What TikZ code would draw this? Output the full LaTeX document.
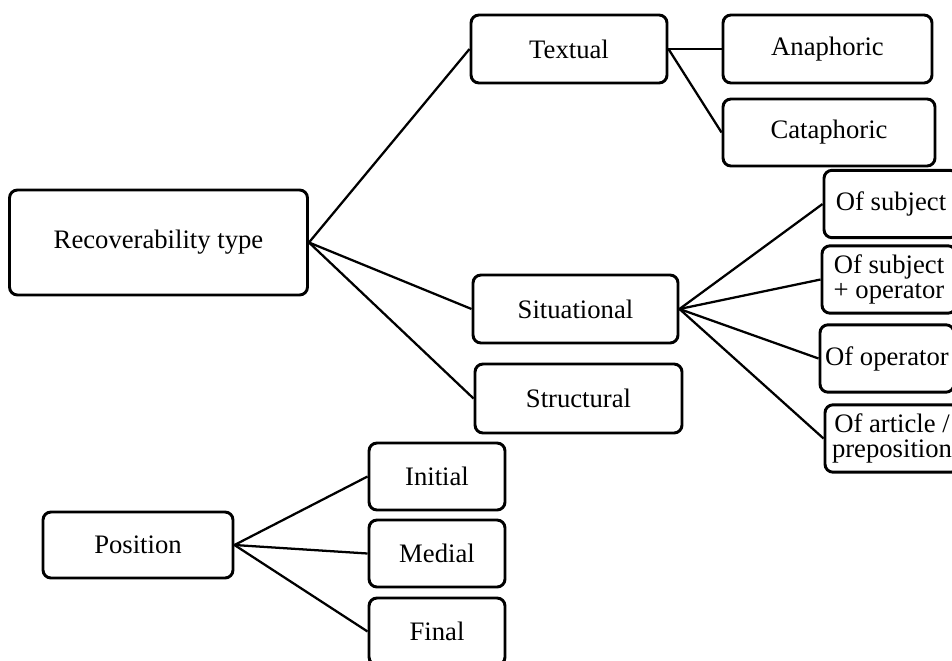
\documentclass[tikz,border=0pt]{standalone}
\usepackage{fontspec}
\setmainfont{Liberation Serif}
\usepackage{tikz}

\begin{document}
\begin{tikzpicture}[
  x=0.75pt, y=-0.75pt,
  font=\fontsize{20}{19}\selectfont,
  box/.style={draw=black, line width=2.2pt, rounded corners=6pt, fill=white,
              align=center, inner sep=0pt, minimum width=102pt, minimum height=51pt},
  leaf/.style={box, minimum width=100.5pt, minimum height=50.5pt},
  link/.style={draw=black, line width=1.7pt}
]
\clip (0,0) rectangle (952,660);

% recoverability tree
\node[box, minimum width=223.5pt, minimum height=78.75pt] (rec) at (158.5,242.5) {Recoverability type};
\node[box, minimum width=147pt]    (textual)    at (569,49)      {Textual};
\node[box, minimum width=156.75pt] (anaphoric)  at (827.5,49)    {Anaphoric};
\node[box, minimum width=159pt, minimum height=50.25pt] (cataphoric) at (829,132.5) {Cataphoric};
\node[box, minimum width=153.75pt] (situational) at (575.5,309)  {Situational};
\node[box, minimum width=155.25pt, minimum height=51.75pt] (structural) at (578.5,398.5) {Structural};

\node[leaf] (ofsubj)   at (891,204)   {Of subject};
\node[leaf] (ofsubjop) at (889,279.5) {Of subject\\+ operator};
\node[leaf] (ofop)     at (887,358.5) {Of operator};
\node[leaf] (ofart)    at (892,438.5) {Of article /\\preposition};

% position tree
\node[box, minimum width=142.5pt, minimum height=49.5pt] (position) at (138,545) {Position};
\node[box, minimum height=50.25pt] (initial) at (437,476.5) {Initial};
\node[box, minimum height=50.25pt] (medial)  at (437,553.5) {Medial};
\node[box, minimum height=50.25pt] (final)   at (437,631.5) {Final};

\draw[link] (rec.east) -- (textual.west);
\draw[link] (rec.east) -- (situational.west);
\draw[link] (rec.east) -- (structural.west);
\draw[link] (textual.east) -- (anaphoric.west);
\draw[link] (textual.east) -- (cataphoric.west);
\draw[link] (situational.east) -- (ofsubj.west);
\draw[link] (situational.east) -- (ofsubjop.west);
\draw[link] (situational.east) -- (ofop.west);
\draw[link] (situational.east) -- (ofart.west);
\draw[link] (position.east) -- (initial.west);
\draw[link] (position.east) -- (medial.west);
\draw[link] (position.east) -- (final.west);
\end{tikzpicture}
\end{document}
